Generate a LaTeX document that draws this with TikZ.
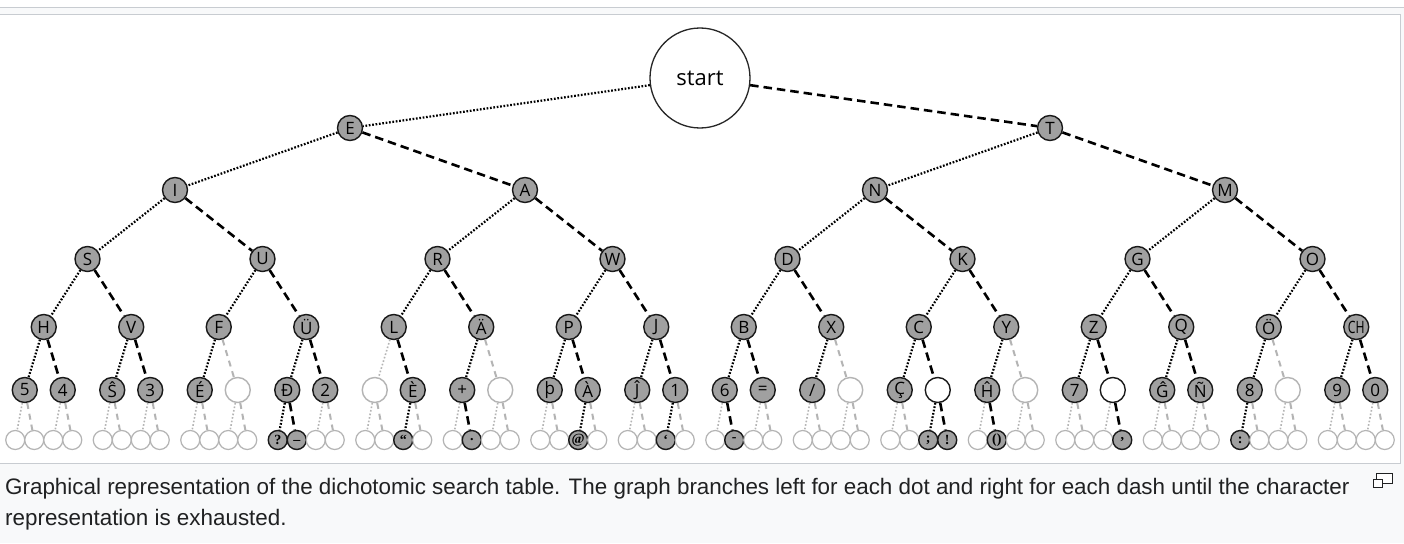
\documentclass[tikz,border=0pt]{standalone}
\usepackage{fontspec}
\setmainfont{Liberation Sans}
\newfontfamily\letterfont{Open Sans}
\newfontfamily\leaffont{Liberation Serif}
\usetikzlibrary{calc}
\definecolor{pagebg}{HTML}{F8F9FA}
\definecolor{framegray}{HTML}{C8CCD1}
\definecolor{captext}{HTML}{202122}
\definecolor{nodegray}{HTML}{A0A0A0}
\definecolor{edgegray}{HTML}{B4B4B4}

\begin{document}
\begin{tikzpicture}[x=1pt,y=-1pt,
  lit/.style={circle,draw=black!90,fill=nodegray,line width=1.4pt,minimum size=25pt,inner sep=0pt,font=\letterfont\fontsize{17}{17}\selectfont},
  hollow/.style={lit,draw=edgegray,fill=white},
  open/.style={lit,fill=white},
  leaf/.style={circle,draw=edgegray,fill=white,line width=1.2pt,minimum size=19pt,inner sep=0pt},
  litleaf/.style={leaf,draw=black!90,fill=nodegray,line width=1.4pt,label={[font=\leaffont\bfseries\fontsize{14}{14}\selectfont]center:{#1}}},
  dotlit/.style={draw=black,line width=2.2pt,dash pattern=on 1.7pt off 1.7pt},
  dashlit/.style={draw=black,line width=2.6pt,dash pattern=on 8.5pt off 5pt},
  dotopen/.style=dotlit, dashopen/.style=dashlit,
  dothollow/.style={draw=edgegray,line width=1.6pt,dash pattern=on 1.6pt off 2pt},
  dashhollow/.style={draw=edgegray,line width=2pt,dash pattern=on 6pt off 5pt},
  lf12/.style={litleaf=?}, ek12/.style=dotlit,
  lf13/.style={litleaf=\_}, ek13/.style=dashlit,
  lf18/.style={litleaf=“}, ek18/.style=dotlit,
  lf21/.style={litleaf=.}, ek21/.style=dashlit,
  lf26/.style={litleaf=@}, ek26/.style=dotlit,
  lf30/.style={litleaf=‘}, ek30/.style=dotlit,
  lf33/.style={litleaf=-}, ek33/.style=dashlit,
  lf42/.style={litleaf=;}, ek42/.style=dotlit,
  lf43/.style={litleaf=!}, ek43/.style=dashlit,
  lf45/.style={litleaf=()}, ek45/.style=dashlit,
  lf51/.style={litleaf={,}}, ek51/.style=dashlit,
  lf56/.style={litleaf=:}, ek56/.style=dotlit]
  \useasboundingbox (0,0) rectangle (1404,543);
  \fill[pagebg] (0,0) rectangle (1404,543);
  \fill[white] (0,0) rectangle (1404,8);
  \draw[framegray,line width=1pt] (0,8) -- (1404,8);
  \filldraw[fill=white,draw=framegray,line width=1pt] (-1,15) rectangle (1400,463);

  \node[circle,draw=black!85,line width=1.3pt,minimum size=100pt,font=\letterfont\fontsize{22}{22}\selectfont] (start) at (700,78) {start};
  \node[lit] (e) at (350,128) {E};
  \node[lit] (t) at (1050,128) {T};
  \node[lit] (i) at (175,190) {I};
  \node[lit] (a) at (525,190) {A};
  \node[lit] (n) at (875,190) {N};
  \node[lit] (m) at (1225,190) {M};
  \node[lit] (s) at (87.5,259) {S};
  \node[lit] (u) at (262.5,259) {U};
  \node[lit] (r) at (437.5,259) {R};
  \node[lit] (w) at (612.5,259) {W};
  \node[lit] (d) at (787.5,259) {D};
  \node[lit] (k) at (962.5,259) {K};
  \node[lit] (g) at (1137.5,259) {G};
  \node[lit] (o) at (1312.5,259) {O};
  \foreach \n/\lab [count=\i from 0] in {h/H,v/V,f/F,uu/Ü,l/L,ae/Ä,p/P,j/J,b/B,x/X,c/C,y/Y,z/Z,q/Q,oe/Ö,ch/\scalebox{0.72}[1]{CH}}
    \node[lit] (\n) at ({43.75+87.5*\i},327) {\lab};
  \foreach \p/\l/\r in {start/e/t,e/i/a,t/n/m,i/s/u,a/r/w,n/d/k,m/g/o,s/h/v,u/f/uu,r/l/ae,w/p/j,d/b/x,k/c/y,g/z/q,o/oe/ch} {
    \draw[dotlit] (\p) -- (\l);
    \draw[dashlit] (\p) -- (\r);
  }

  \foreach \p/\a/\sa/\b/\sb [count=\i from 0] in {h/5/lit/4/lit,v/Ŝ/lit/3/lit,f/É/lit//hollow,uu/Ð/lit/2/lit,
      l//hollow/È/lit,ae/+/lit//hollow,p/þ/lit/À/lit,j/Ĵ/lit/1/lit,b/6/lit/=/lit,x/{/}/lit//hollow,
      c/Ç/lit//open,y/Ĥ/lit//hollow,z/7/lit//open,q/Ĝ/lit/Ñ/lit,oe/8/lit//hollow,ch/9/lit/0/lit} {
    \pgfmathtruncatemacro\jl{2*\i}
    \pgfmathtruncatemacro\jr{2*\i+1}
    \node[\sa] (f\jl) at ({43.75+87.5*\i-19},390) {\a};
    \node[\sb] (f\jr) at ({43.75+87.5*\i+19},390) {\b};
    \draw[dot\sa] (\p) -- (f\jl);
    \draw[dash\sb] (\p) -- (f\jr);
  }

  \foreach \j in {0,...,31} {
    \pgfmathtruncatemacro\kl{2*\j}
    \pgfmathtruncatemacro\kr{2*\j+1}
    \node[leaf,lf\kl/.try] (g\kl) at ($(f\j)+(-9.5,50)$) {};
    \node[leaf,lf\kr/.try] (g\kr) at ($(f\j)+(9.5,50)$) {};
    \draw[dothollow,ek\kl/.try] (f\j) -- (g\kl);
    \draw[dashhollow,ek\kr/.try] (f\j) -- (g\kr);
  }

  \node[anchor=base west,inner sep=0pt,text=captext,font=\fontsize{22.4}{27}\selectfont] (cap1) at (5,494) {Graphical representation of the dichotomic search table. The graph branches left for each dot and right for each dash until the character};
  \node[anchor=base west,inner sep=0pt,text=captext,font=\fontsize{22.4}{27}\selectfont] (cap2) at (5,525) {representation is exhausted.};
  \draw[captext,line width=1pt,fill=white] (1376.5,473.5) rectangle (1392,483);
  \draw[captext,line width=1pt,fill=white] (1373.5,479.5) rectangle (1382,487);
\end{tikzpicture}
\end{document}
